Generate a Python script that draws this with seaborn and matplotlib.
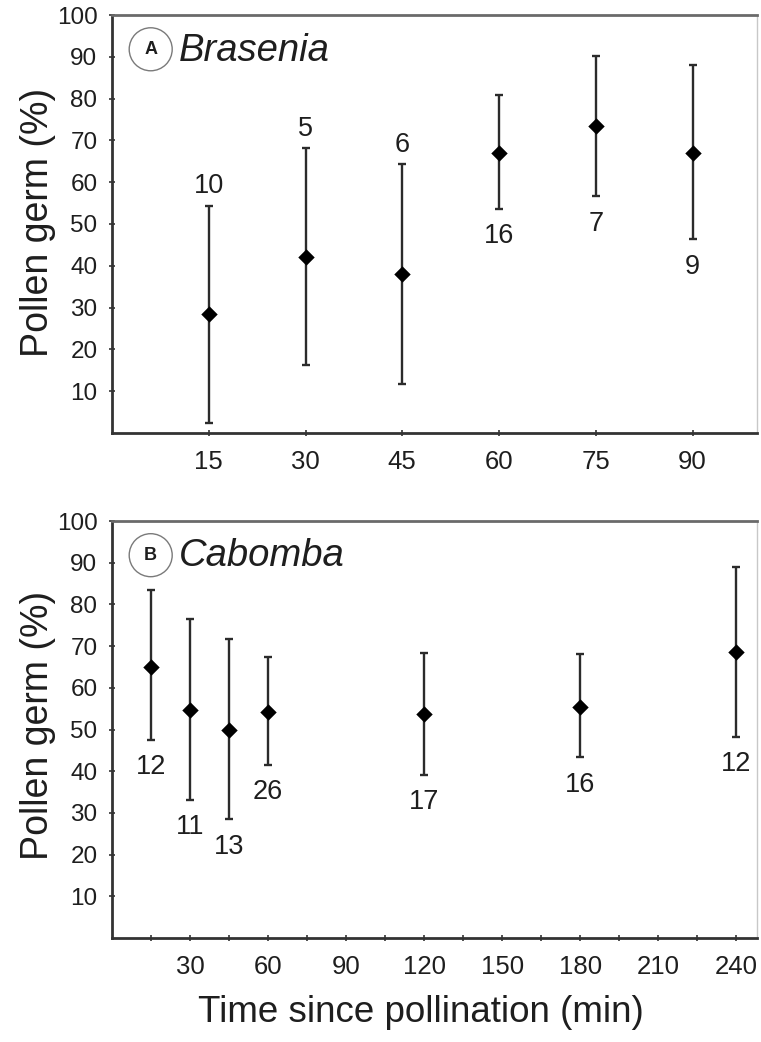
import numpy as np
import pandas as pd
import matplotlib
matplotlib.use("Agg")
import matplotlib.pyplot as plt
import seaborn as sns

# Pollen germination (%) after pollination: mean with range, n per time point
brasenia_time = [15, 30, 45, 60, 75, 90]
brasenia_mean = [28.5, 42.2, 38.1, 67.1, 73.4, 67.1]
brasenia_upper = [54.4, 68.1, 64.3, 80.8, 90.2, 88.0]
brasenia_lower = [2.4, 16.3, 11.8, 53.7, 56.6, 46.3]
brasenia_n = [10, 5, 6, 16, 7, 9]
brasenia_n_side = ["above", "above", "above", "below", "below", "below"]

cabomba_time = [15, 30, 45, 60, 120, 180, 240]
cabomba_mean = [65.1, 54.6, 50.0, 54.3, 53.6, 55.3, 68.5]
cabomba_upper = [83.4, 76.4, 71.6, 67.5, 68.3, 68.0, 88.9]
cabomba_lower = [47.6, 33.2, 28.6, 41.6, 39.2, 43.3, 48.3]
cabomba_n = [12, 11, 13, 26, 17, 16, 12]
cabomba_n_side = ["below"] * 7

y_ticks = [10, 20, 30, 40, 50, 60, 70, 80, 90, 100]
brasenia_xticks = [15, 30, 45, 60, 75, 90]
cabomba_xticks = [30, 60, 90, 120, 150, 180, 210, 240]
cabomba_minor = [15, 45, 75, 105, 135, 165, 195, 225]

sns.set_theme(style="ticks")
plt.rcParams["font.family"] = ["Liberation Sans", "DejaVu Sans"]

W, H = 761, 1042
fig = plt.figure(figsize=(W / 100, H / 100), dpi=100)
fig.patch.set_facecolor("white")

ink = "#1e1e1e"
bar_col = "#2b2b2b"


def frame(left, top, right, bottom):
    return [left / W, 1 - bottom / H, (right - left) / W, (bottom - top) / H]


ax_a = fig.add_axes(frame(112, 15, 757, 433))
ax_b = fig.add_axes(frame(112, 521, 757, 938))


def panel(ax, time, mean, lower, upper, n, side, letter, genus):
    df = pd.DataFrame({"time": time, "mean": mean, "lower": lower,
                       "upper": upper, "n": n, "side": side})
    err = np.vstack([df["mean"] - df["lower"], df["upper"] - df["mean"]])
    ax.errorbar(df["time"], df["mean"], yerr=err, fmt="none",
                ecolor=bar_col, elinewidth=1.7, capsize=3.2, capthick=1.7,
                zorder=2)
    sns.scatterplot(data=df, x="time", y="mean", marker="D", s=70,
                    color="black", edgecolor="black", linewidth=0,
                    ax=ax, zorder=3, legend=False)
    for _, r in df.iterrows():
        if r["side"] == "above":
            ax.annotate(str(int(r["n"])), (r["time"], r["upper"]),
                        xytext=(0, 14), textcoords="offset points",
                        ha="center", va="center", fontsize=19.5, color=ink)
        else:
            ax.annotate(str(int(r["n"])), (r["time"], r["lower"]),
                        xytext=(0, -20), textcoords="offset points",
                        ha="center", va="center", fontsize=19.5, color=ink)

    ax.set_ylim(0, 100)
    ax.set_yticks(y_ticks)
    ax.set_xlabel("")
    ax.set_ylabel("")
    ax.tick_params(axis="both", direction="inout", length=5, width=1.2,
                   colors="#333333", labelcolor=ink)
    ax.tick_params(axis="y", labelsize=17.5, pad=8)
    ax.tick_params(axis="x", labelsize=18.5, pad=10)
    for s in ["left", "bottom"]:
        ax.spines[s].set_color("#333333")
        ax.spines[s].set_linewidth(2)
    ax.spines["top"].set_color("#6a6a6a")
    ax.spines["top"].set_linewidth(2)
    ax.spines["right"].set_color("#c8c8c8")
    ax.spines["right"].set_linewidth(1)
    ax.spines["top"].set_visible(True)
    ax.spines["right"].set_visible(True)

    ax.text(0.060, 0.918, letter, transform=ax.transAxes, ha="center",
            va="center", fontsize=13, fontweight="bold", color=ink,
            bbox=dict(boxstyle="circle,pad=0.72", fc="white",
                      ec="#7a7a7a", lw=1))
    ax.text(0.104, 0.915, genus, transform=ax.transAxes, ha="left",
            va="center", fontsize=27.5, style="italic", color=ink)


panel(ax_a, brasenia_time, brasenia_mean, brasenia_lower, brasenia_upper,
      brasenia_n, brasenia_n_side, "A", "Brasenia")
ax_a.set_xlim(0, 100)
ax_a.set_xticks(brasenia_xticks)

panel(ax_b, cabomba_time, cabomba_mean, cabomba_lower, cabomba_upper,
      cabomba_n, cabomba_n_side, "B", "Cabomba")
ax_b.set_xlim(0, 248)
ax_b.set_xticks(cabomba_xticks)
ax_b.set_xticks(cabomba_minor, minor=True)
ax_b.tick_params(axis="x", which="minor", direction="inout", length=5,
                 width=1.2, colors="#333333")

for yc in (222, 725):
    fig.text(38 / W, 1 - yc / H, "Pollen germ (%)", rotation=90,
             ha="center", va="center", fontsize=27, color=ink)
fig.text(421 / W, 1 - 1012 / H, "Time since pollination (min)",
         ha="center", va="center", fontsize=26.5, color=ink)

fig.savefig("out.png", dpi=100, facecolor="white")
